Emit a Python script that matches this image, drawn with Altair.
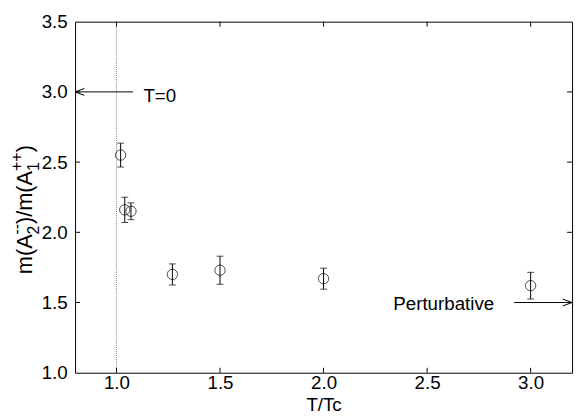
import altair as alt
import pandas as pd

# data
t_over_tc = [1.02, 1.04, 1.07, 1.27, 1.5, 2.0, 3.0]
ratio = [2.55, 2.16, 2.15, 1.70, 1.73, 1.67, 1.62]
err = [0.085, 0.09, 0.06, 0.075, 0.10, 0.075, 0.095]

x_ticks = [1.0, 1.5, 2.0, 2.5, 3.0]
y_ticks = [1.0, 1.5, 2.0, 2.5, 3.0, 3.5]

# y-axis label pieces: main text, subscript, superscript
ylab_main = ["m(A", ")/m(A", ")"]
ylab_sub = ["2", "1"]
ylab_sup = ["--", "++"]

W, H = 504, 356
FONT = "Liberation Sans"
FS = 19

df = pd.DataFrame({
    "t": t_over_tc,
    "r": ratio,
    "lo": [r - e for r, e in zip(ratio, err)],
    "hi": [r + e for r, e in zip(ratio, err)],
})

xs = alt.Scale(domain=[0.8, 3.2], nice=False, zero=False)
ys = alt.Scale(domain=[1.0, 3.5], nice=False, zero=False)

xax = alt.Axis(values=x_ticks, format=".1f", ticks=False, domain=False, grid=False,
               labelFontSize=FS, labelPadding=1, labelColor="black",
               title="T/Tc", titleFontSize=FS, titleFontWeight="normal",
               titlePadding=3, titleColor="black")
yax = alt.Axis(values=y_ticks, format=".1f", ticks=False, domain=False, grid=False,
               labelFontSize=FS, labelPadding=8, labelColor="black", title=None)

base = alt.Chart(df)

errbars = base.mark_rule(color="black", strokeWidth=1).encode(
    x=alt.X("t:Q", scale=xs, axis=xax),
    y=alt.Y("lo:Q", scale=ys, axis=yax),
    y2="hi:Q",
)
cap_lo = base.mark_tick(color="black", orient="horizontal", size=7, thickness=1).encode(
    x=alt.X("t:Q", scale=xs), y=alt.Y("lo:Q", scale=ys))
cap_hi = base.mark_tick(color="black", orient="horizontal", size=7, thickness=1).encode(
    x=alt.X("t:Q", scale=xs), y=alt.Y("hi:Q", scale=ys))
points = base.mark_point(shape="circle", filled=False, size=110, color="black",
                         strokeWidth=1).encode(
    x=alt.X("t:Q", scale=xs), y=alt.Y("r:Q", scale=ys))

# dotted line at Tc
tc_line = alt.Chart(pd.DataFrame({"t": [1.0]})).mark_rule(
    color="#888888", strokeDash=[1, 1], strokeWidth=1).encode(x=alt.X("t:Q", scale=xs))

# arrows
arrow_df = pd.DataFrame({"x1": [0.8, 2.92], "x2": [1.08, 3.2], "y": [3.0, 1.5]})
arrows = alt.Chart(arrow_df).mark_rule(color="black", strokeWidth=1).encode(
    x=alt.X("x1:Q", scale=xs), x2="x2:Q", y=alt.Y("y:Q", scale=ys))

head_left = alt.Chart(pd.DataFrame({"x": [0.8], "y": [3.0]})).mark_point(
    shape="M0,0L1.9,-0.7M0,0L1.9,0.7", size=100, filled=False, color="black",
    strokeWidth=1, opacity=1).encode(x=alt.X("x:Q", scale=xs), y=alt.Y("y:Q", scale=ys))
head_right = alt.Chart(pd.DataFrame({"x": [3.2], "y": [1.5]})).mark_point(
    shape="M0,0L-1.9,-0.7M0,0L-1.9,0.7", size=100, filled=False, color="black",
    strokeWidth=1, opacity=1).encode(x=alt.X("x:Q", scale=xs), y=alt.Y("y:Q", scale=ys))

label_t0 = alt.Chart(pd.DataFrame({"x": [1.13], "y": [3.0], "txt": ["T=0"]})).mark_text(
    align="left", baseline="alphabetic", fontSize=FS, font=FONT, dy=10, color="black").encode(
    x=alt.X("x:Q", scale=xs), y=alt.Y("y:Q", scale=ys), text="txt:N")
label_p = alt.Chart(pd.DataFrame({"x": [2.824], "y": [1.5], "txt": ["Perturbative"]})).mark_text(
    align="right", baseline="alphabetic", fontSize=FS, font=FONT, dy=8, color="black").encode(
    x=alt.X("x:Q", scale=xs), y=alt.Y("y:Q", scale=ys), text="txt:N")

# inward ticks on all four sides
xt = alt.Chart(pd.DataFrame({"v": x_ticks}))
yt = alt.Chart(pd.DataFrame({"v": y_ticks[1:-1]}))
tick_b = xt.mark_rule(color="black").encode(x=alt.X("v:Q", scale=xs), y=alt.value(H), y2=alt.value(H - 5))
tick_t = xt.mark_rule(color="black").encode(x=alt.X("v:Q", scale=xs), y=alt.value(0), y2=alt.value(5))
tick_l = yt.mark_rule(color="black").encode(y=alt.Y("v:Q", scale=ys), x=alt.value(0), x2=alt.value(5))
tick_r = yt.mark_rule(color="black").encode(y=alt.Y("v:Q", scale=ys), x=alt.value(W), x2=alt.value(W - 5))

# rotated y-axis title built from pieces (plot-relative pixel offsets)
def piece(txt, px, py, fs):
    return alt.Chart(pd.DataFrame({"txt": [txt]})).mark_text(
        angle=270, align="left", baseline="alphabetic", fontSize=fs, font=FONT,
        color="black").encode(x=alt.value(px), y=alt.value(py), text="txt:N")

MF, SF = 22, 16
bx = -44          # main baseline (relative to plot left)
y0 = 256          # start of label (relative to plot top)
y1 = y0 - 40.3
y2 = y1 - 10.5
y3 = y2 - 53.8
y4 = y3 - 19.0
title_layers = [
    piece(ylab_main[0], bx, y0, MF),
    piece(ylab_sub[0], bx + 7, y1, SF),
    piece(ylab_sup[0], bx - 10, y1, SF),
    piece(ylab_main[1], bx, y2, MF),
    piece(ylab_sub[1], bx + 7, y3, SF),
    piece(ylab_sup[1], bx - 10, y3, SF),
    piece(ylab_main[2], bx, y4, MF),
]

chart = alt.layer(
    errbars, tc_line, cap_lo, cap_hi, points, arrows, head_left, head_right,
    label_t0, label_p, tick_b, tick_t, tick_l, tick_r, *title_layers,
).properties(
    width=W, height=H,
    autosize=alt.AutoSizeParams(type="none"),
    padding={"left": 68, "top": 11, "right": 4, "bottom": 41},
).configure(font=FONT).configure_view(stroke="black", strokeWidth=1)

chart.save("out.html", embed_options={"renderer": "svg", "actions": False})
